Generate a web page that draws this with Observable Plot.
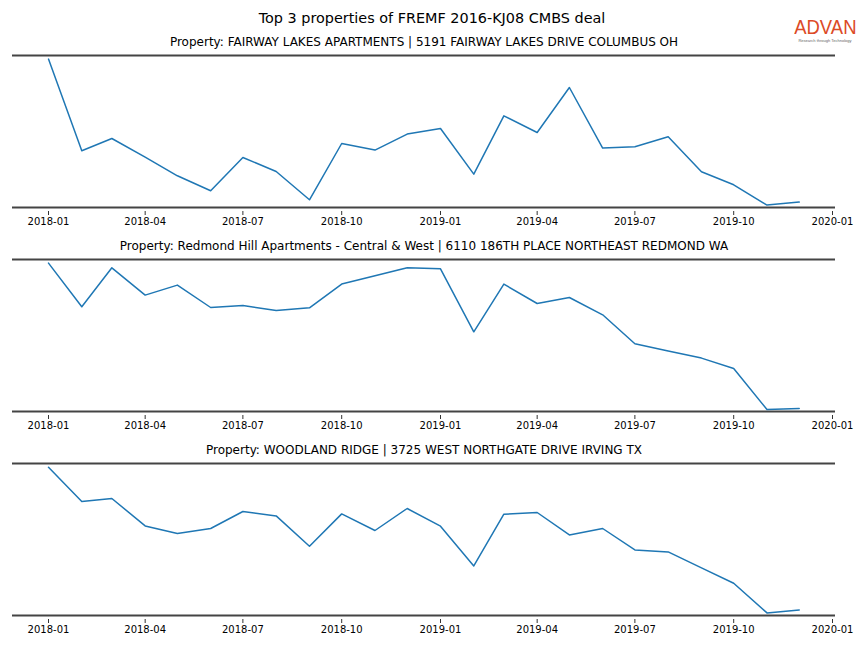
<!DOCTYPE html>
<html>
<head>
<meta charset="utf-8">
<script src="https://cdn.jsdelivr.net/npm/d3@7"></script>
<script src="https://cdn.jsdelivr.net/npm/@observablehq/plot@0.6"></script>
<style>
  html, body { margin: 0; padding: 0; background: #fff; }
  body { font-family: "DejaVu Sans", sans-serif; }
  #wrap { position: relative; width: 864px; height: 648px; overflow: hidden; }
  #title { position: absolute; left: 0; top: 10px; width: 864px; text-align: center; font-size: 14.4px; color: #000; }
  #logo { position: absolute; left: 790px; top: 16px; width: 70px; text-align: center; }
  #logo .big { font-family: "Liberation Sans", Arial, sans-serif; font-size: 21px; color: #dc4a26; line-height: 22px; transform: scaleX(0.88); transform-origin: center; }
  #logo .small { font-family: "Liberation Sans", Arial, sans-serif; font-size: 4px; color: #666; line-height: 5px; white-space: nowrap; }
  .panel { position: absolute; left: 0; }
</style>
</head>
<body>
<div id="wrap">
  <div id="title">Top 3 properties of FREMF 2016-KJ08 CMBS deal</div>
  <div id="logo"><div class="big">ADVAN</div><div class="small">Research through Technology</div></div>
</div>
<script>
const months = ["2018-01","2018-02","2018-03","2018-04","2018-05","2018-06","2018-07","2018-08","2018-09","2018-10","2018-11","2018-12",
                "2019-01","2019-02","2019-03","2019-04","2019-05","2019-06","2019-07","2019-08","2019-09","2019-10","2019-11","2019-12"];
const fairway  = [148.4, 56.7, 69.0, 50.4, 31.7, 16.7, 50.0, 36.0, 7.7, 64.0, 57.4, 73.4, 79.0, 33.4, 91.7, 75.0, 120.0, 59.4, 60.7, 70.7, 35.7, 22.7, 2.4, 5.4];
const redmond  = [148.4, 104.7, 143.7, 116.4, 126.4, 104.0, 106.0, 101.0, 103.7, 127.4, 135.7, 143.7, 142.7, 79.7, 127.4, 108.0, 114.0, 96.7, 67.7, 60.4, 53.4, 43.0, 2.0, 3.0];
const woodland = [148.3, 114.0, 117.0, 89.6, 82.0, 87.0, 104.0, 99.6, 69.3, 101.6, 85.0, 107.0, 89.3, 49.6, 101.3, 103.0, 80.6, 87.0, 65.6, 63.6, 47.6, 32.3, 2.6, 5.6];
const titles = [
  "Property: FAIRWAY LAKES APARTMENTS | 5191 FAIRWAY LAKES DRIVE COLUMBUS OH",
  "Property: Redmond Hill Apartments - Central & West | 6110 186TH PLACE NORTHEAST REDMOND WA",
  "Property: WOODLAND RIDGE | 3725 WEST NORTHGATE DRIVE IRVING TX"
];
const tickLabels = ["2018-01","2018-04","2018-07","2018-10","2019-01","2019-04","2019-07","2019-10","2020-01"];
const yDomain = [0, 152];

const parse = d3.utcParse("%Y-%m");
const seriesList = [fairway, redmond, woodland];
const wrap = document.getElementById("wrap");

seriesList.forEach((vals, i) => {
  const data = months.map((m, j) => ({date: parse(m), value: vals[j]}));
  const chart = Plot.plot({
    width: 864,
    height: 204,
    marginLeft: 12,
    marginRight: 29,
    marginTop: 25,
    marginBottom: 27,
    style: {fontFamily: "DejaVu Sans, sans-serif", fontSize: "10px", background: "transparent", color: "#000"},
    x: {type: "utc", domain: [parse(tickLabels[0]), parse(tickLabels[tickLabels.length - 1])], range: [48, 832]},
    y: {domain: yDomain, axis: null},
    marks: [
      Plot.ruleY(yDomain, {stroke: "#444", strokeWidth: 2}),
      Plot.line(data, {x: "date", y: "value", stroke: "#1f77b4", strokeWidth: 1.5}),
      Plot.axisX({ticks: tickLabels.map(parse), tickFormat: d3.utcFormat("%Y-%m"), tickSize: 4, tickPadding: 2, dy: 4, stroke: "#333", fill: "#000", fontSize: 10}),
      Plot.text([titles[i]], {frameAnchor: "top", dy: -13, lineAnchor: "middle", fontSize: 12, fill: "#000"})
    ]
  });
  chart.classList.add("panel");
  chart.style.top = (30 + 204 * i) + "px";
  wrap.appendChild(chart);
});
</script>
</body>
</html>
